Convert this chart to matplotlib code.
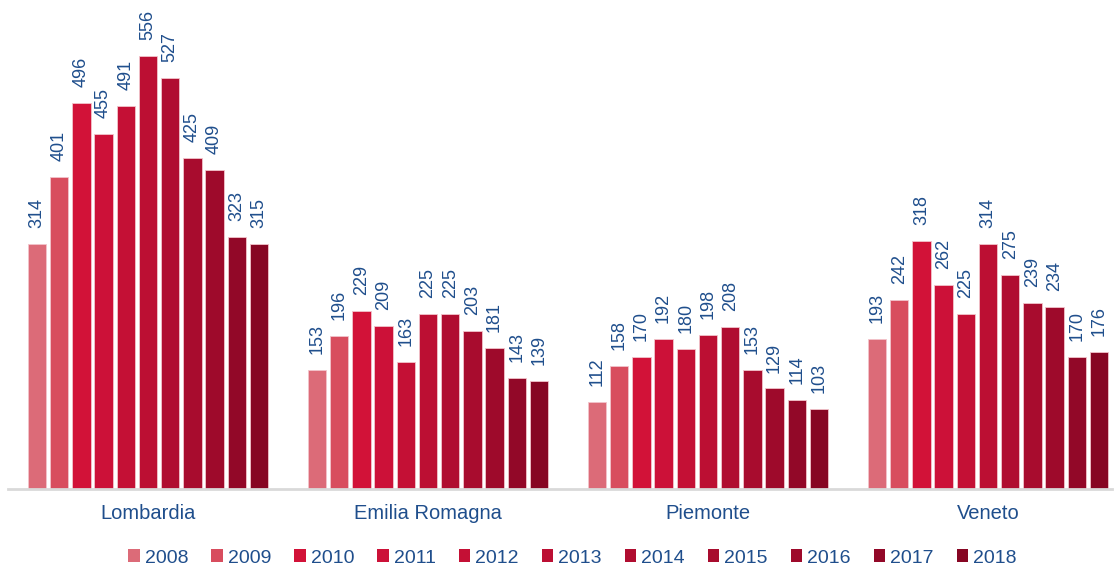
import matplotlib
matplotlib.use("Agg")
import matplotlib.pyplot as plt
from matplotlib.patches import Patch
import numpy as np

plt.rcParams['font.family'] = ['Liberation Sans', 'DejaVu Sans']

regions = ["Lombardia", "Emilia Romagna", "Piemonte", "Veneto"]
years = ["2008", "2009", "2010", "2011", "2012", "2013", "2014", "2015", "2016", "2017", "2018"]
lombardia = [314, 401, 496, 455, 491, 556, 527, 425, 409, 323, 315]
emilia = [153, 196, 229, 209, 163, 225, 225, 203, 181, 143, 139]
piemonte = [112, 158, 170, 192, 180, 198, 208, 153, 129, 114, 103]
veneto = [193, 242, 318, 262, 225, 314, 275, 239, 234, 170, 176]
colors = ["#DC6B78", "#D84D5E", "#D21238", "#CC1138", "#C41035", "#BC0F33",
          "#B00D30", "#A80C2E", "#9E0A2B", "#920828", "#870623"]

data = np.array([lombardia, emilia, piemonte, veneto])

fig = plt.figure(figsize=(11.16, 5.69), dpi=100)
ax = fig.add_axes([8/1116, 80/569, 1104/1116, 487/569])

step = 22.2/280
width = 18.5/280
x = np.arange(len(regions))
label_color = "#1F4E8C"
for j, yr in enumerate(years):
    pos = x + (j - 5) * step
    bars = ax.bar(pos, data[:, j], width=width, color=colors[j],
                  edgecolor="#F2C4CB", linewidth=0.6, label=yr)
    for b, v in zip(bars, data[:, j]):
        ax.annotate(str(v), (b.get_x() + b.get_width()/2, v), xytext=(0, 11.5),
                    textcoords="offset points", rotation=90, ha="center",
                    va="bottom", fontsize=13, color=label_color)

ax.set_xlim(-0.5, 3.443)
ax.set_ylim(0, 625)
ax.set_yticks([])
ax.set_xticks(x)
ax.set_xticklabels(regions, fontsize=14.5, color=label_color)
ax.tick_params(axis="x", length=0, pad=11)
for s in ["top", "right", "left"]:
    ax.spines[s].set_visible(False)
ax.spines["bottom"].set_color("#D9D9D9")
ax.spines["bottom"].set_linewidth(2)

handles = [Patch(facecolor=c, edgecolor="none") for c in colors]
fig.legend(handles, years, loc="center", bbox_to_anchor=(0.513, 1 - 558/569),
           ncol=11, frameon=False, fontsize=14, handlelength=0.6,
           handleheight=0.6, handletextpad=0.25, columnspacing=1.18,
           labelcolor=label_color)

fig.savefig("out.png", dpi=100)
